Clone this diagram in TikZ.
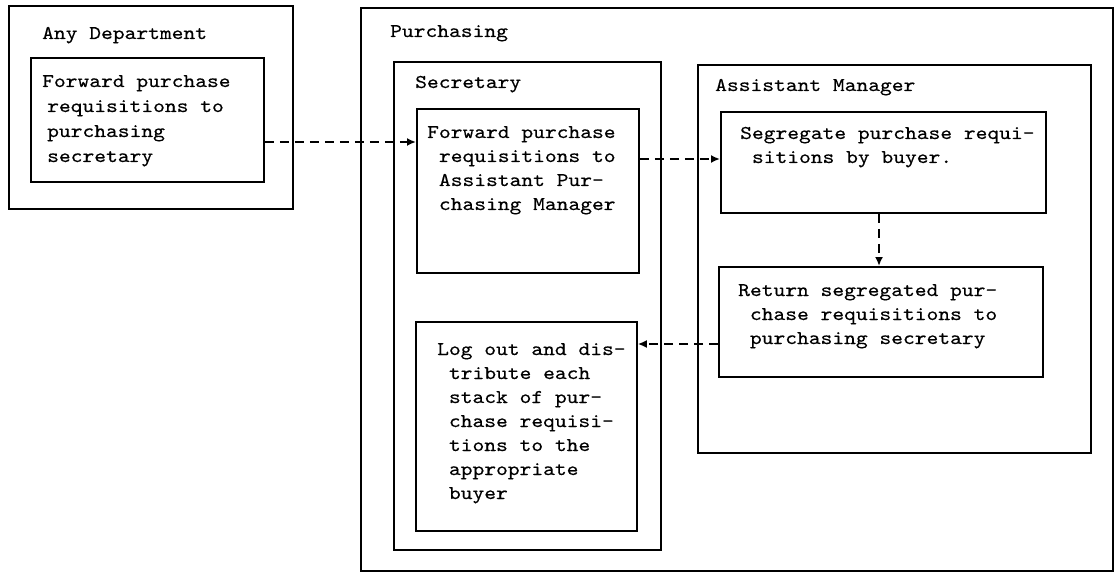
\documentclass[tikz,border=0pt]{standalone}
\usepackage{fontspec}
\newfontfamily\tw[FakeStretch=1.15,FakeBold=0.4]{lmmono10-regular.otf}
\usetikzlibrary{arrows.meta}
\newcommand\tl[1]{\begin{tabular}[t]{@{}l@{}}#1\end{tabular}}
\tikzset{
  box/.style={draw, line width=1.8pt, rectangle, inner sep=0pt, anchor=north west},
  txt/.style={inner sep=0pt, anchor=base west, font={\tw\fontsize{19.5}{24}\selectfont}},
  conn/.style={line width=1.8pt, dash pattern=on 9pt off 6pt, -{Latex[length=9pt,width=8pt]}}
}
\begin{document}
\begin{tikzpicture}[x=1pt,y=-1pt]
\useasboundingbox (0,0) rectangle (1115,577);
% containers
\node[box, minimum width=284pt, minimum height=203pt] (anydep) at (8,5) {};
\node[txt] (anydepT) at (42,39) {Any Department};
\node[box, minimum width=752pt, minimum height=563pt] (purch) at (360,7) {};
\node[txt] (purchT) at (390,37) {Purchasing};
\node[box, minimum width=267pt, minimum height=488pt] (secr) at (393,61) {};
\node[txt] (secrT) at (415,88) {Secretary};
\node[box, minimum width=393pt, minimum height=388pt] (asst) at (697,64) {};
\node[txt] (asstT) at (715,91) {Assistant Manager};
% process boxes
\node[box, minimum width=233pt, minimum height=124pt] (b1) at (30,57) {};
\node[txt, font={\tw\fontsize{19.5}{25}\selectfont}] (b1T) at (42,87)
  {\tl{Forward purchase\\\hspace{5pt}requisitions to\\\hspace{5pt}purchasing\\\hspace{5pt}secretary}};
\node[box, minimum width=222pt, minimum height=164pt] (b2) at (416,108) {};
\node[txt] (b2T) at (427,138)
  {\tl{Forward purchase\\~requisitions to\\~Assistant Pur-\\~chasing Manager}};
\node[box, minimum width=325pt, minimum height=101pt] (b3) at (720,111) {};
\node[txt] (b3T) at (740,139)
  {\tl{Segregate purchase requi-\\~sitions by buyer.}};
\node[box, minimum width=324pt, minimum height=110pt] (b4) at (718,266) {};
\node[txt] (b4T) at (738,296)
  {\tl{Return segregated pur-\\~chase requisitions to\\~purchasing secretary}};
\node[box, minimum width=221pt, minimum height=209pt] (b5) at (415,321) {};
\node[txt] (b5T) at (437,355)
  {\tl{Log out and dis-\\~tribute each\\~stack of pur-\\~chase requisi-\\~tions to the\\~appropriate\\~buyer}};
% connectors
\coordinate (y1) at (0,142);
\coordinate (y2) at (0,159);
\coordinate (x3) at (879,0);
\coordinate (y4) at (0,344);
\draw[conn] (b1.east |- y1) -- (b2.west |- y1);
\draw[conn] (b2.east |- y2) -- (b3.west |- y2);
\draw[conn] (b3.south -| x3) -- (b4.north -| x3);
\draw[conn] (b4.west |- y4) -- (b5.east |- y4);
\end{tikzpicture}
\end{document}
